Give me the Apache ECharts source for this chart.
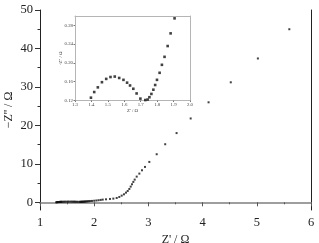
<!DOCTYPE html>
<html><head><meta charset="utf-8">
<script src="https://cdn.jsdelivr.net/npm/echarts@6/dist/echarts.min.js"></script>
<style>html,body{margin:0;padding:0;background:#fff}#c{width:319px;height:243px}</style>
</head><body><div id="c"></div>
<script>
// Nyquist data (Z', -Z'')
const zReal = [1.30,1.31,1.32,1.33,1.34,1.35,1.36,1.37,1.38,1.39,
  1.397,1.417,1.439,1.464,1.490,1.516,1.542,1.569,1.595,1.617,1.635,1.655,1.675,1.698,1.728,1.742,1.753,1.765,1.777,1.788,1.799,1.815,1.829,1.845,1.864,1.882,1.906,
  1.93,1.96,2.00,2.04,2.08,2.12,2.157,2.218,2.291,2.353,2.415,2.463,2.507,2.550,2.587,2.618,2.648,2.673,2.697,2.722,2.747,2.784,2.833,2.882,2.937,3.017,3.153,3.31,3.52,3.78,4.11,4.52,5.02,5.60];
const zImag = [0.01,0.03,0.05,0.06,0.075,0.085,0.095,0.105,0.112,0.118,
  0.126,0.138,0.148,0.159,0.166,0.170,0.171,0.168,0.164,0.158,0.152,0.145,0.135,0.124,0.121,0.122,0.127,0.134,0.143,0.153,0.164,0.179,0.196,0.213,0.236,0.263,0.295,
  0.32,0.36,0.41,0.47,0.54,0.62,0.70,0.78,0.87,0.96,1.13,1.39,1.74,2.08,2.52,2.95,3.47,4.08,4.69,5.30,5.90,6.68,7.46,8.33,9.2,10.5,12.5,15.1,18.0,21.8,26.0,31.2,37.4,45.0];
const mainYTicks = [0,10,20,30,40,50];
const mainYMinor = [5,15,25,35,45];
const insetYTicks = [0.12,0.16,0.20,0.24,0.28];

const pts = zReal.map((x,i)=>[x,zImag[i]]);
const serif = 'Liberation Serif';
const dark = '#222', gray = '#999', lgray = '#b5b5b5';
const chart = echarts.init(document.getElementById('c'), null, {renderer:'canvas'});
chart.setOption({
  animation:false,
  grid:[
    {left:40, right:8, top:10, bottom:33, containLabel:false, outerBoundsMode:'none'},
    {left:75, right:129, top:16, bottom:142.5, show:true, backgroundColor:'#fff', borderWidth:0, z:5, containLabel:false, outerBoundsMode:'none'}
  ],
  xAxis:[
    {gridIndex:0, type:'value', min:1, max:6, interval:1, position:'bottom',
     axisLine:{lineStyle:{color:gray, width:1.5}},
     axisTick:{inside:false, length:4, lineStyle:{color:'#555'}},
     minorTick:{show:true, splitNumber:2, length:2, lineStyle:{color:'#555'}},
     splitLine:{show:false},
     axisLabel:{fontFamily:serif, fontSize:12.5, color:dark, margin:6},
     name:"Z' / Ω", nameLocation:'middle', nameGap:24, nameMoveOverlap:false,
     nameTextStyle:{fontFamily:serif, fontSize:12, color:dark}},
    {gridIndex:0, type:'value', min:1, max:6, position:'top',
     axisLine:{show:true, lineStyle:{color:gray, width:1.5}}, axisTick:{show:false}, axisLabel:{show:false}, splitLine:{show:false}},
    {gridIndex:1, type:'value', min:1.3, max:2.0, interval:0.1, position:'bottom', z:6,
     axisLine:{lineStyle:{color:lgray, width:1}},
     axisTick:{length:1.5, lineStyle:{color:'#777'}},
     splitLine:{show:false},
     axisLabel:{fontFamily:serif, fontSize:4.8, color:'#444', margin:2, formatter:v=>v.toFixed(1)},
     name:"Z' / Ω", nameLocation:'middle', nameGap:8, nameMoveOverlap:false,
     nameTextStyle:{fontFamily:serif, fontSize:4.8, color:'#444'}},
    {gridIndex:1, type:'value', min:1.3, max:2.0, position:'top', z:6,
     axisLine:{show:true, lineStyle:{color:lgray, width:1}}, axisTick:{show:false}, axisLabel:{show:false}, splitLine:{show:false}}
  ],
  yAxis:[
    {gridIndex:0, type:'value', min:-2, max:50, position:'left',
     axisLine:{show:true, lineStyle:{color:dark, width:1}},
     axisTick:{show:true, length:5, customValues:mainYTicks, lineStyle:{color:'#333'}},
     axisLabel:{fontFamily:serif, fontSize:12.5, color:dark, margin:7, customValues:mainYTicks},
     splitLine:{show:false},
     name:"−Z'' / Ω", nameLocation:'middle', nameGap:25, nameRotate:90, nameMoveOverlap:false,
     nameTextStyle:{fontFamily:serif, fontSize:12, color:dark}},
    {gridIndex:0, type:'value', min:-2, max:50, position:'right',
     axisLine:{show:true, lineStyle:{color:dark, width:1}}, axisTick:{show:false}, axisLabel:{show:false}, splitLine:{show:false}},
    {gridIndex:0, type:'value', min:-2, max:50, position:'left',
     axisLine:{show:false},
     axisTick:{show:true, length:2.5, customValues:mainYMinor, lineStyle:{color:'#333'}},
     axisLabel:{show:false}, splitLine:{show:false}},
    {gridIndex:1, type:'value', min:0.12, max:0.30, position:'left', z:6,
     axisLine:{show:true, lineStyle:{color:lgray, width:1}},
     axisTick:{show:true, length:1.5, customValues:insetYTicks, lineStyle:{color:'#777'}},
     axisLabel:{fontFamily:serif, fontSize:4.8, color:'#444', margin:2, customValues:insetYTicks, formatter:v=>v.toFixed(2)},
     splitLine:{show:false},
     name:"-Z'' / Ω", nameLocation:'middle', nameGap:12, nameRotate:90, nameMoveOverlap:false,
     nameTextStyle:{fontFamily:serif, fontSize:4.8, color:'#444'}},
    {gridIndex:1, type:'value', min:0.12, max:0.30, position:'right', z:6,
     axisLine:{show:true, lineStyle:{color:lgray, width:1}}, axisTick:{show:false}, axisLabel:{show:false}, splitLine:{show:false}}
  ],
  series:[
    {type:'scatter', xAxisIndex:0, yAxisIndex:0, data:pts, symbol:'rect', symbolSize:2, itemStyle:{color:'#111'}, clip:true, silent:true},
    {type:'scatter', xAxisIndex:2, yAxisIndex:3, data:pts, symbol:'rect', symbolSize:2.6, itemStyle:{color:'#111'}, clip:true, silent:true, z:7}
  ]
});
</script></body></html>
